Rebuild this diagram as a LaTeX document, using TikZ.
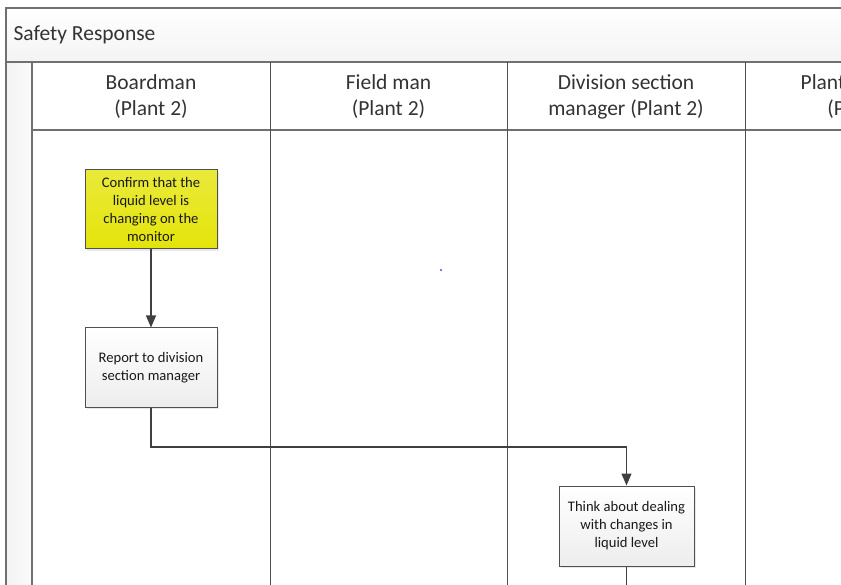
\documentclass[tikz,border=0pt]{standalone}
\usepackage{fontspec}
\setmainfont{Carlito}
\usetikzlibrary{arrows.meta,shadows}

\definecolor{framegray}{RGB}{112,112,112}
\definecolor{linegray}{RGB}{80,80,80}
\definecolor{boxyellow}{RGB}{228,228,10}

\tikzset{
  frame/.style={draw=framegray, line width=1.1pt},
  lane/.style={draw=linegray, line width=0.9pt},
  header/.style={align=center, font=\fontsize{21.5}{26}\selectfont, text=black!80},
  stepbox/.style={draw=linegray, line width=1pt, align=center,
    minimum width=132pt, minimum height=79pt, inner sep=2pt,
    font=\fontsize{14.6}{18}\selectfont, text=black!90,
    top color=white, bottom color=gray!14,
    drop shadow={opacity=0.18, shadow xshift=2pt, shadow yshift=-2pt}},
  flow/.style={draw=black!75, line width=1.2pt,
    -{Triangle[length=12pt, width=10pt]}},
}

\begin{document}
\begin{tikzpicture}[x=1pt, y=-1pt]
\useasboundingbox (0,0) rectangle (841,585);
\begin{scope}
  \clip (0,0) rectangle (841,585);
  % pool title bar
  \shade[top color=white, bottom color=gray!9] (6,8) rectangle (860,62);
  % left strip of the pool
  \shade[left color=gray!10, right color=gray!3] (6,62) rectangle (32,600);
  % outer frame
  \draw[frame] (860,8) -- (6,8) -- (6,600);
  \draw[frame] (6,62) -- (860,62);
  \draw[frame] (32,62) -- (32,600);
  % header row bottom
  \draw[frame] (32,130) -- (860,130);
  % lane dividers
  \draw[lane] (270,62) -- (270,600);
  \draw[lane] (507,62) -- (507,600);
  \draw[lane] (745,62) -- (745,600);
\end{scope}

\node[anchor=west, font=\fontsize{21.5}{26}\selectfont, text=black!80] (title) at (10,35) {Safety Response};

\node[header] (h1) at (151,96.5) {Boardman\\(Plant 2)};
\node[header] (h2) at (388.5,96.5) {Field man\\(Plant 2)};
\node[header] (h3) at (626,96.5) {Division section\\manager (Plant 2)};
\begin{scope}
  \clip (745,62) rectangle (841,130);
  \node[header] (h4) at (864,96.5) {Plant manager\\(Plant 2)};
\end{scope}

% process steps
\node[stepbox, top color=boxyellow!80!white, bottom color=boxyellow] (s1) at (151,209.5)
  {Confirm that the\\liquid level is\\changing on the\\monitor};
\node[stepbox] (s2) at (151,367.5) {Report to division\\section manager};
\node[stepbox, minimum width=135pt, minimum height=80pt] (s3) at (626.5,526)
  {Think about dealing\\with changes in\\liquid level};

\coordinate (bend) at (151,447);
\coordinate (out) at (626.5,600);

\draw[flow] (s1) -- (s2);
\draw[flow] (s2.south) |- (bend -| s3.north) -- (s3.north);
\begin{scope}
  \clip (0,0) rectangle (841,585);
  \draw[draw=black!75, line width=1.2pt] (s3.south) -- (out);
\end{scope}

% small mark in the second lane
\fill[blue!70] (441,270) circle (1.1pt);
\end{tikzpicture}
\end{document}
